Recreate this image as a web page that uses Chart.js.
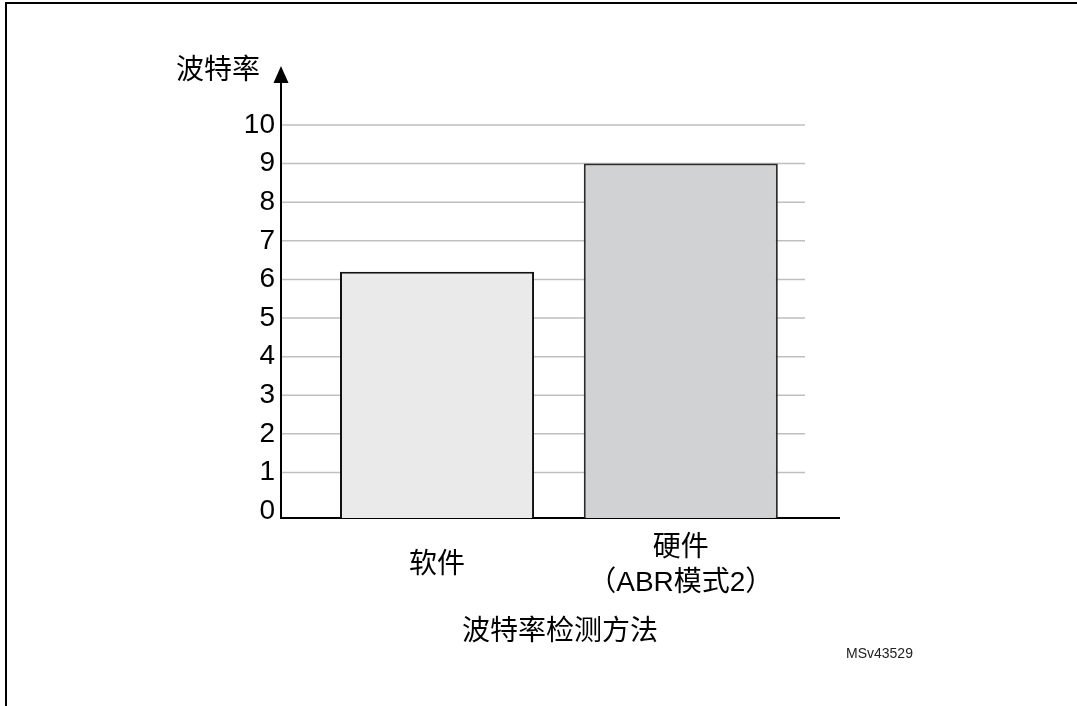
<!DOCTYPE html>
<html lang="zh">
<head>
<meta charset="utf-8">
<title>波特率检测方法</title>
<script src="https://cdn.jsdelivr.net/npm/chart.js@4.4.1/dist/chart.umd.min.js"></script>
<style>
  html, body { margin: 0; padding: 0; background: #fff; }
  #frame { position: absolute; left: 5px; top: 2px; right: 0; bottom: 0;
           border-left: 2px solid #000; border-top: 2px solid #000; }
  canvas { position: absolute; left: 0; top: 0; }
</style>
</head>
<body>
<div id="frame"></div>
<canvas id="myChart" width="1077" height="706"></canvas>
<script>
// data
const categories = ['软件', ['硬件', '（ABR模式2）']];
const rates = [6.2, 9];
const yTicks = [0, 1, 2, 3, 4, 5, 6, 7, 8, 9, 10];
const yTitle = '波特率';
const xTitle = '波特率检测方法';
const figId = 'MSv43529';

// styles
const barFill = ['#eaeaea', '#d1d2d4'];
const barEdge = ['#111111', '#2b2b2b'];
const FONT = '"Liberation Sans", "Noto Sans CJK SC", sans-serif';
const Y_MIN = -0.18;

const positions = categories.map((c, i) => i + 1);

// grid lines stop short of the x axis end, y axis gets an arrow + title
const axisDecor = {
    id: 'axisDecor',
    beforeDatasetsDraw(chart) {
        const {ctx, chartArea: a, scales: {y}} = chart;
        ctx.save();
        ctx.strokeStyle = '#bfbfbf';
        ctx.lineWidth = 1.5;
        y.ticks.forEach(t => {
            if (t.value === 0) return;
            const py = y.getPixelForValue(t.value);
            ctx.beginPath();
            ctx.moveTo(a.left + 1, py);
            ctx.lineTo(a.right - 34, py);
            ctx.stroke();
        });
        ctx.restore();
    },
    afterDraw(chart) {
        const {ctx, chartArea: a} = chart;
        ctx.save();
        ctx.strokeStyle = '#000';
        ctx.fillStyle = '#000';
        ctx.lineWidth = 2;
        ctx.beginPath();
        ctx.moveTo(a.left, a.top + 1);
        ctx.lineTo(a.left, a.top - 44);
        ctx.stroke();
        ctx.beginPath();
        ctx.moveTo(a.left, a.top - 59);
        ctx.lineTo(a.left - 7.5, a.top - 42);
        ctx.lineTo(a.left + 7.5, a.top - 42);
        ctx.closePath();
        ctx.fill();

        ctx.font = '28px ' + FONT;
        ctx.textAlign = 'right';
        ctx.textBaseline = 'middle';
        ctx.fillText(yTitle, a.left - 21, a.top - 54);

        ctx.font = '14px ' + FONT;
        ctx.textAlign = 'left';
        ctx.fillStyle = '#222';
        ctx.fillText(figId, a.right + 7, a.bottom + 136);
        ctx.restore();
    }
};

Chart.defaults.font.family = FONT;
Chart.defaults.color = '#000';

const ctx = document.getElementById('myChart').getContext('2d');
const myChart = new Chart(ctx, {
    type: 'bar',
    data: {
        datasets: [{
            data: positions.map((x, i) => ({x: x, y: rates[i]})),
            backgroundColor: barFill,
            borderColor: barEdge,
            borderWidth: 2,
            borderSkipped: 'start',
            categoryPercentage: 1,
            barPercentage: 0.796,
            base: Y_MIN
        }]
    },
    options: {
        responsive: false,
        animation: false,
        devicePixelRatio: 1,
        layout: { padding: { left: 0, right: 238, top: 125, bottom: 56 } },
        plugins: {
            legend: { display: false },
            tooltip: { enabled: false }
        },
        scales: {
            x: {
                type: 'linear',
                offset: false,
                min: 0.36,
                max: 2.649,
                afterBuildTicks: s => { s.ticks = positions.map(v => ({value: v})); },
                afterFit: s => { s.height = 132; },
                grid: { display: false, drawTicks: false },
                border: { display: true, color: '#000', width: 2 },
                ticks: {
                    padding: 30,
                    crossAlign: 'center',
                    maxRotation: 0,
                    font: { size: 28, lineHeight: 1.25 },
                    callback: v => categories[v - 1]
                },
                title: {
                    display: true,
                    text: xTitle,
                    font: { size: 28, lineHeight: 1.25 },
                    padding: 0
                }
            },
            y: {
                min: Y_MIN,
                max: 10,
                afterBuildTicks: s => { s.ticks = yTicks.map(v => ({value: v})); },
                afterFit: s => { s.width = 281; },
                grid: { display: false, drawTicks: false },
                border: { display: true, color: '#000', width: 2 },
                ticks: { padding: 6, font: { size: 28 } }
            }
        }
    },
    plugins: [axisDecor]
});
</script>
</body>
</html>
